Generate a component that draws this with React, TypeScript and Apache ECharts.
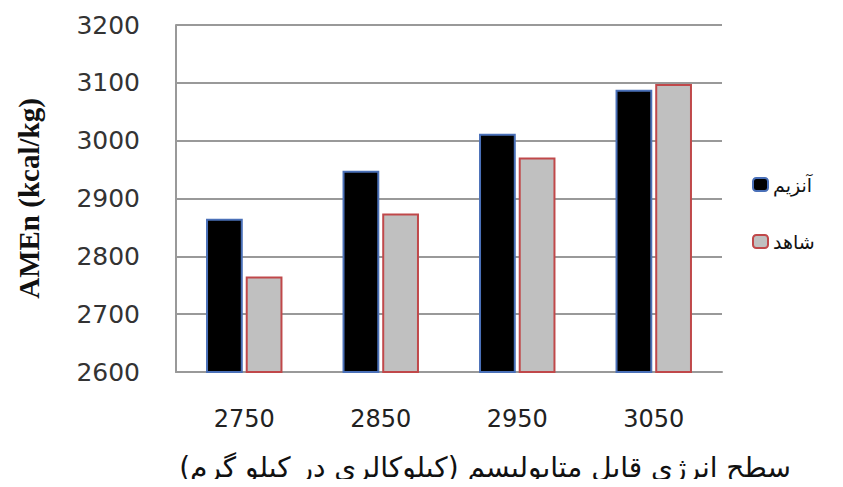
import React, { useEffect, useRef } from "react";
import * as echarts from "echarts";

const categories = ["2750", "2850", "2950", "3050"];
const enzymeValues = [2865, 2948, 3012, 3088];
const controlValues = [2765, 2874, 2971, 3098];
const seriesNames = ["آنزیم", "شاهد"];
const yAxisTitle = "AMEn (kcal/kg)";
const xAxisTitle = "سطح انرژی قابل متابولیسم (کیلوکالری در کیلو گرم)";

export default function App() {
  const ref = useRef<HTMLDivElement>(null);
  useEffect(() => {
    const chart = echarts.init(ref.current!, null, { renderer: "svg" });
    chart.setOption({
      animation: false,
      backgroundColor: "#ffffff",
      grid: {
        left: 176,
        top: 25,
        right: 121,
        bottom: 115,
        containLabel: false,
        outerBoundsMode: "none",
      },
      legend: {
        orient: "vertical",
        left: 747,
        top: 170,
        itemWidth: 15,
        itemHeight: 13,
        itemGap: 38,
        textStyle: { fontFamily: "DejaVu Sans", fontSize: 19, color: "#111" },
        data: seriesNames,
      },
      xAxis: {
        type: "category",
        data: categories,
        axisLine: { show: true, lineStyle: { color: "#999", width: 2 } },
        axisTick: { show: false },
        axisLabel: {
          fontFamily: "DejaVu Sans",
          fontSize: 24,
          color: "#222",
          margin: 35,
        },
        name: xAxisTitle,
        nameLocation: "middle",
        nameGap: 81,
        nameTextStyle: {
          fontFamily: "DejaVu Sans",
          fontSize: 28,
          color: "#111",
          padding: [0, 0, 0, 72],
        },
      },
      yAxis: {
        type: "value",
        min: 2600,
        max: 3200,
        interval: 100,
        axisLine: { show: true, lineStyle: { color: "#999", width: 2 } },
        axisTick: { show: false },
        splitLine: { show: true, lineStyle: { color: "#999", width: 2 } },
        axisLabel: {
          fontFamily: "DejaVu Sans",
          fontSize: 25,
          color: "#333",
          margin: 36,
          formatter: (v: number) => String(v),
        },
        name: yAxisTitle,
        nameLocation: "middle",
        nameGap: 133,
        nameTextStyle: {
          fontFamily: "Liberation Serif",
          fontSize: 29,
          fontWeight: "bold",
          color: "#111",
        },
      },
      series: [
        {
          name: seriesNames[0],
          type: "bar",
          data: enzymeValues,
          barGap: "8%",
          barCategoryGap: "44%",
          itemStyle: { color: "#000000", borderColor: "#4a70b8", borderWidth: 2 },
        },
        {
          name: seriesNames[1],
          type: "bar",
          data: controlValues,
          itemStyle: { color: "#c0c0c0", borderColor: "#c0484a", borderWidth: 2 },
        },
      ],
    });
    return () => chart.dispose();
  }, []);
  return <div ref={ref} style={{ width: 843, height: 487, margin: -8 }} />;
}
